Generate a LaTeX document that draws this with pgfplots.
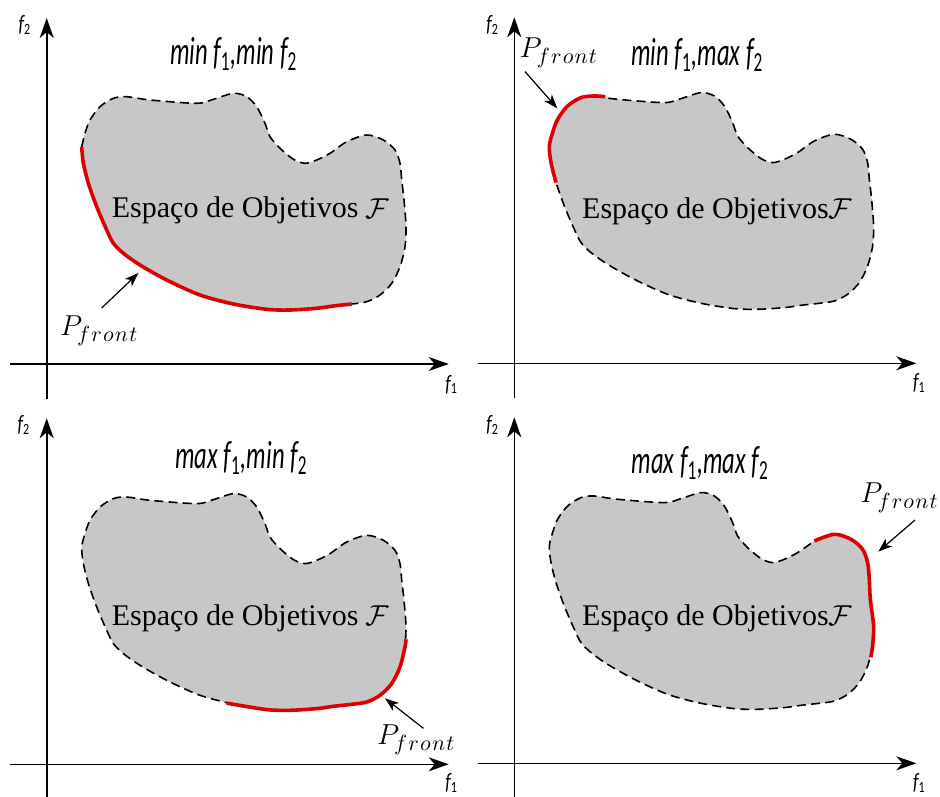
\documentclass[border=0pt]{standalone}
\usepackage{pgfplots}
\pgfplotsset{compat=1.18}
\usetikzlibrary{arrows.meta}
\usepackage{graphicx}
\usepackage{fontspec}
\setmainfont{Liberation Serif}
\newfontfamily\carl{Carlito}

\definecolor{blobgrey}{RGB}{199,199,199}
\definecolor{frontred}{RGB}{220,0,0}

\pgfplotsset{
  panel/.style={x=0.5pt, y=0.5pt, xmin=-36.5, xmax=402, ymin=-35, ymax=346,
    axis lines=middle, xtick=\empty, ytick=\empty, enlargelimits=false,
    axis line style={line width=0.8pt, -{Stealth[length=10pt,width=7pt,inset=3pt]}},
    clip=false, anchor=origin},
  blobline/.style={black, line width=0.8pt, dash pattern=on 4.5pt off 2.6pt, smooth, no markers},
  redline/.style={frontred, line width=1.8pt, smooth, no markers},
}
\tikzset{parr/.style={-{Stealth[length=7pt,width=5pt,inset=2pt]}, line width=0.6pt}}

\newcommand{\blobfill}{\addplot[fill=blobgrey, draw=none, smooth, no markers] coordinates {
(35,217) (38.3,230.7) (43.3,244) (53.3,257.3) (66.7,265.7) (80,267.3) (103.3,264) (150,260.7)
(166.7,264.7) (186.7,270.7) (200,267.3) (210,257.3) (218.3,240.7) (223.3,227.3) (233.3,215.7)
(246.7,204.7) (258.3,200.7) (270,204) (283.3,210.7) (300,222.3) (320,229) (336.7,224)
(348.3,214) (353.3,200.7) (355,184) (357.3,164) (359.3,137.3) (358.3,117.3) (353.3,97.3)
(345,80.7) (333.3,69) (320,62.3) (305,60) (286.7,58) (270,55.7) (243.3,54) (220,54.7)
(186.7,60) (153.3,69) (120,84) (93.3,99) (76.7,110.7) (66.7,120.7) (60,134) (50,157.3)
(41.7,180.7) (36.7,200.7) (35,217) (38.3,230.7)};}

\newcommand{\lab}[1]{{\carl\itshape\fontsize{9}{10}\selectfont\scalebox{1}[1.3]{f\textsubscript{\upshape #1}}}}
\newcommand{\ttl}[2]{\scalebox{1}[1.6]{\carl\itshape\fontsize{12.3}{14}\selectfont #1 f\textsubscript{\upshape 1},#2 f\textsubscript{\upshape 2}}}
\newcommand{\pf}{{\fontsize{15}{18}\selectfont$P$}\kern-2.5pt\raisebox{-3.3pt}{\fontsize{11}{12}\selectfont$f\mkern1mu r\mkern1mu o\mkern1mu n\mkern1mu t$}}
\newcommand{\esp}[1]{{\fontsize{15}{18}\selectfont Espaço de Objetivos#1$\mathcal{F}$}}

\begin{document}
\begin{tikzpicture}
\useasboundingbox (0,0) rectangle (470pt,-398pt);

% ---------------- top left: min f1, min f2
\begin{axis}[panel, at={(23.35pt,-182pt)}]
\blobfill
\addplot[blobline] coordinates {
(35,217) (38.3,230.7) (43.3,244) (53.3,257.3) (66.7,265.7) (80,267.3) (103.3,264) (150,260.7)
(166.7,264.7) (186.7,270.7) (200,267.3) (210,257.3) (218.3,240.7) (223.3,227.3) (233.3,215.7)
(246.7,204.7) (258.3,200.7) (270,204) (283.3,210.7) (300,222.3) (320,229) (336.7,224)
(348.3,214) (353.3,200.7) (355,184) (357.3,164) (359.3,137.3) (358.3,117.3) (353.3,97.3)
(345,80.7) (333.3,69) (320,62.3) (305,60)};
\addplot[redline] coordinates {
(305,60) (286.7,58) (270,55.7) (243.3,54) (220,54.7) (186.7,60) (153.3,69) (120,84) (93.3,99)
(76.7,110.7) (66.7,120.7) (60,134) (50,157.3) (41.7,180.7) (36.7,200.7) (35,217)};
\node[anchor=base, inner sep=0] at (axis cs:187,299) {\ttl{min}{min}};
\node[anchor=base, inner sep=0] at (axis cs:204,146) {\esp{ }};
\node[anchor=base west, inner sep=0] at (axis cs:13,29) {\pf};
\draw[parr] (axis cs:55,56) -- (axis cs:91.7,91);
\node[inner sep=0] at (axis cs:-21.7,339) {\lab{2}};
\node[inner sep=0] at (axis cs:405,-20.7) {\lab{1}};
\end{axis}

% ---------------- top right: min f1, max f2
\begin{axis}[panel, at={(257.15pt,-181.65pt)}]
\blobfill
\addplot[blobline] coordinates {
(80,267.3) (103.3,264) (150,260.7)
(166.7,264.7) (186.7,270.7) (200,267.3) (210,257.3) (218.3,240.7) (223.3,227.3) (233.3,215.7)
(246.7,204.7) (258.3,200.7) (270,204) (283.3,210.7) (300,222.3) (320,229) (336.7,224)
(348.3,214) (353.3,200.7) (355,184) (357.3,164) (359.3,137.3) (358.3,117.3) (353.3,97.3)
(345,80.7) (333.3,69) (320,62.3) (305,60) (286.7,58) (270,55.7) (243.3,54) (220,54.7)
(186.7,60) (153.3,69) (120,84) (93.3,99) (76.7,110.7) (66.7,120.7) (60,134) (50,157.3)
(41.7,180.7)};
\addplot[redline] coordinates {
(41.7,180.7) (36.7,200.7) (35,217) (38.3,230.7) (43.3,244) (53.3,257.3) (66.7,265.7) (80,267.3) (91,266.6)};
\node[anchor=base, inner sep=0] at (axis cs:183,298) {\ttl{min}{max}};
\node[anchor=base, inner sep=0] at (axis cs:203,145) {\esp{}};
\node[anchor=base west, inner sep=0] at (axis cs:5,306) {\pf};
\draw[parr] (axis cs:10.7,291.7) -- (axis cs:43,255);
\node[inner sep=0] at (axis cs:-21.7,338) {\lab{2}};
\node[inner sep=0] at (axis cs:405,-20) {\lab{1}};
\end{axis}

% ---------------- bottom left: max f1, min f2
\begin{axis}[panel, at={(23.35pt,-382.15pt)}]
\blobfill
\addplot[blobline] coordinates {
(186.7,60) (153.3,69) (120,84) (93.3,99) (76.7,110.7) (66.7,120.7) (60,134) (50,157.3)
(41.7,180.7) (36.7,200.7) (35,217) (38.3,230.7) (43.3,244) (53.3,257.3) (66.7,265.7) (80,267.3) (103.3,264) (150,260.7)
(166.7,264.7) (186.7,270.7) (200,267.3) (210,257.3) (218.3,240.7) (223.3,227.3) (233.3,215.7)
(246.7,204.7) (258.3,200.7) (270,204) (283.3,210.7) (300,222.3) (320,229) (336.7,224)
(348.3,214) (353.3,200.7) (355,184) (357.3,164) (359.3,137.3) (358.3,117.3)};
\addplot[redline] coordinates {
(359.3,125) (358.3,117.3) (353.3,97.3) (345,80.7) (333.3,69) (320,62.3) (305,60) (286.7,58)
(270,55.7) (243.3,54) (220,54.7) (186.7,60) (180,61.2)};
\node[anchor=base, inner sep=0] at (axis cs:194.7,296) {\ttl{max}{min}};
\node[anchor=base, inner sep=0] at (axis cs:204,139.3) {\esp{ }};
\node[anchor=base west, inner sep=0] at (axis cs:330,20) {\pf};
\draw[parr] (axis cs:376.7,36) -- (axis cs:338.3,66);
\node[inner sep=0] at (axis cs:-22.7,339) {\lab{2}};
\node[inner sep=0] at (axis cs:405,-19) {\lab{1}};
\end{axis}

% ---------------- bottom right: max f1, max f2
\begin{axis}[panel, at={(257.15pt,-381.65pt)}]
\blobfill
\addplot[blobline] coordinates {
(358.3,117.3) (353.3,97.3)
(345,80.7) (333.3,69) (320,62.3) (305,60) (286.7,58) (270,55.7) (243.3,54) (220,54.7)
(186.7,60) (153.3,69) (120,84) (93.3,99) (76.7,110.7) (66.7,120.7) (60,134) (50,157.3)
(41.7,180.7) (36.7,200.7) (35,217) (38.3,230.7) (43.3,244) (53.3,257.3) (66.7,265.7) (80,267.3) (103.3,264) (150,260.7)
(166.7,264.7) (186.7,270.7) (200,267.3) (210,257.3) (218.3,240.7) (223.3,227.3) (233.3,215.7)
(246.7,204.7) (258.3,200.7) (270,204) (283.3,210.7) (300,222.3)};
\addplot[redline] coordinates {
(300,222.3) (320,229) (336.7,224) (348.3,214) (353.3,200.7) (355,184) (356,164) (359.3,137.3)
(358.3,117.3) (356.5,106)};
\node[anchor=base, inner sep=0] at (axis cs:186,290) {\ttl{max}{max}};
\node[anchor=base, inner sep=0] at (axis cs:203,138.3) {\esp{}};
\node[anchor=base west, inner sep=0] at (axis cs:345.7,261) {\pf};
\draw[parr] (axis cs:400.7,243.3) -- (axis cs:364,211.7);
\node[inner sep=0] at (axis cs:-21.7,338) {\lab{2}};
\node[inner sep=0] at (axis cs:405,-20) {\lab{1}};
\end{axis}
\end{tikzpicture}
\end{document}
